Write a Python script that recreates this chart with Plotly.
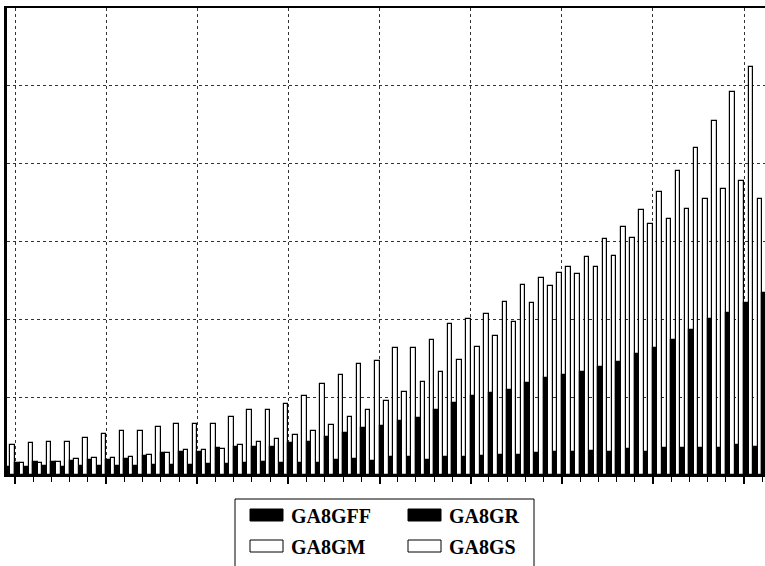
import plotly.graph_objects as go

# group index (categories) 0..41
groups = list(range(42))

ga8gff = [1.0, 1.0, 1.1, 1.0, 1.1, 1.1, 1.2, 1.2, 1.3, 1.3, 1.3, 1.4, 1.4, 1.5,
          1.7, 1.6, 1.6, 1.6, 1.9, 2.0, 1.8, 2.3, 2.3, 1.9, 2.3, 2.3, 2.4,
          2.6, 2.6, 2.8, 2.9, 2.9, 3.1, 3.0, 3.3, 2.9, 3.5, 3.5, 3.5, 3.5, 3.8, 3.6]

ga8gm = [3.9, 4.1, 4.2, 4.3, 4.7, 5.3, 5.7, 5.6, 6.2, 6.6, 6.6, 6.6, 7.5,
         8.3, 8.4, 9.1, 10.1, 11.7, 12.9, 14.2, 14.7, 16.3, 16.3, 17.3, 19.4, 20.0, 20.7,
         22.2, 24.4, 25.3, 26.0, 25.8, 26.7, 28.2, 30.5, 32.3, 32.9, 34.2, 35.5, 36.8, 37.8, 35.5]

ga8gr = [1.5, 1.7, 1.7, 1.8, 1.9, 1.9, 2.1, 2.4, 2.8, 3.0, 3.0, 3.5, 3.6,
         3.6, 3.6, 4.1, 4.3, 4.9, 5.4, 6.0, 6.3, 6.9, 7.3, 8.4, 9.3, 10.1, 10.5,
         10.9, 11.8, 12.5, 12.9, 13.2, 13.9, 14.5, 15.6, 16.3, 17.4, 18.6, 20.1, 20.8, 22.1, 23.4]

ga8gs = [1.5, 1.6, 1.7, 2.0, 2.2, 2.2, 2.3, 2.6, 2.8, 3.2, 3.2, 3.4, 3.9,
         4.3, 4.6, 5.1, 5.7, 6.4, 7.5, 8.4, 9.5, 10.7, 12.0, 13.2, 14.8, 16.5, 17.8,
         19.7, 22.1, 24.3, 26.7, 28.0, 30.3, 31.9, 34.1, 36.4, 39.1, 42.0, 45.5, 49.2, 52.4, 56.0]

series_names = ["GA8GFF", "GA8GM", "GA8GR", "GA8GS"]
series_values = [ga8gff, ga8gm, ga8gr, ga8gs]
series_colors = ["black", "white", "black", "white"]

FONT = "Liberation Serif, Times New Roman, Times, serif"

W, H = 765, 566
ML, MR, MT, MB = 7, 0, 8, 91
PW, PH = W - ML - MR, H - MT - MB


def px(x):
    return (x - ML) / PW


def py(y):
    return (H - MB - y) / PH


fig = go.Figure()
for name, vals, col in zip(series_names, series_values, series_colors):
    fig.add_trace(go.Bar(
        x=groups, y=vals, name=name, showlegend=False,
        marker=dict(color=col, line=dict(color="black", width=1.2)),
    ))

# hand-drawn legend box (2 x 2 layout like the original)
shapes = [dict(type="rect", xref="paper", yref="paper",
               x0=px(235), x1=px(534), y0=py(575), y1=py(499),
               line=dict(color="black", width=1), fillcolor="white", layer="above")]
annotations = []
legend_layout = [  # (series index, swatch left x, row centre y)
    (0, 250, 515),
    (2, 408, 515),
    (1, 250, 546),
    (3, 408, 546),
]
for idx, sx, cy in legend_layout:
    shapes.append(dict(type="rect", xref="paper", yref="paper",
                       x0=px(sx), x1=px(sx + 33), y0=py(cy + 6), y1=py(cy - 6),
                       line=dict(color="black", width=1),
                       fillcolor=series_colors[idx], layer="above"))
    annotations.append(dict(xref="paper", yref="paper", x=px(sx + 39), y=py(cy + 1),
                            xanchor="left", yanchor="middle", showarrow=False,
                            text="<b>" + series_names[idx] + "</b>",
                            font=dict(family=FONT, size=20, color="black")))

fig.update_layout(
    width=W, height=H,
    margin=dict(l=ML, r=MR, t=MT, b=MB, autoexpand=False),
    paper_bgcolor="white", plot_bgcolor="white",
    barmode="group", bargap=0, bargroupgap=0,
    font=dict(family=FONT, color="black", size=18),
    showlegend=False,
    shapes=shapes, annotations=annotations,
)

fig.update_xaxes(
    range=[-0.44, 41.15],
    tickmode="linear", tick0=0, dtick=5,
    ticks="outside", ticklen=7, tickwidth=2, tickcolor="black",
    showticklabels=False,
    showgrid=True, gridcolor="#333333", griddash="dot", gridwidth=1,
    showline=True, linecolor="black", linewidth=2, mirror=True,
    zeroline=False,
    minor=dict(tick0=0, dtick=1, ticks="outside", ticklen=5, tickwidth=1,
               tickcolor="black", showgrid=False),
)
fig.update_yaxes(
    range=[0, 60], tickmode="linear", tick0=0, dtick=10,
    showticklabels=False, ticks="",
    showgrid=True, gridcolor="#333333", griddash="dot", gridwidth=1,
    showline=True, linecolor="black", linewidth=3,
    zeroline=False,
)

fig.write_html("out.html")
